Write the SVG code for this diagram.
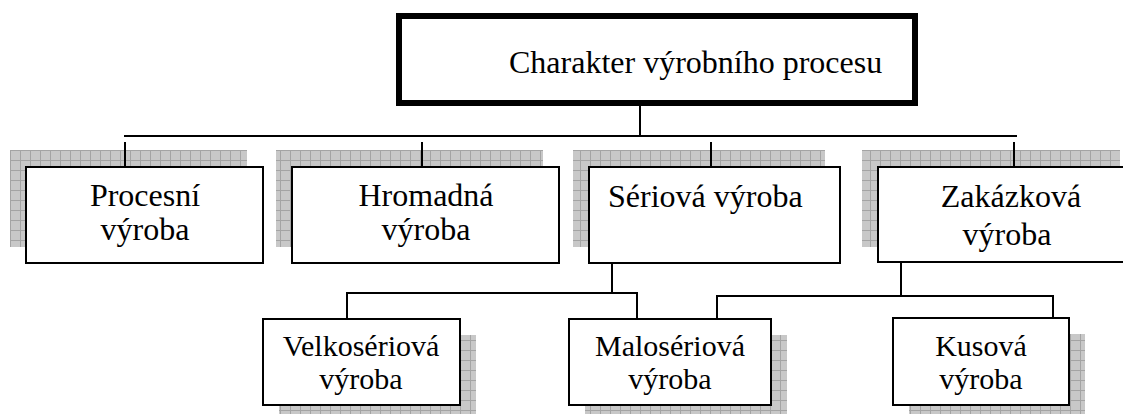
<svg xmlns="http://www.w3.org/2000/svg" width="1123" height="414" viewBox="0 0 1123 414">
<style>
.box{fill:#fff;stroke:#000;stroke-width:2}
.sh{fill:url(#grid)}
.t{font-family:"Liberation Serif","Times New Roman",serif;font-size:32px;fill:#000;text-anchor:middle}
.s{font-size:30px}
.c{stroke:#000;stroke-width:2;fill:none}
</style>
<defs>
<pattern id="grid" patternUnits="userSpaceOnUse" x="0" y="0" width="10" height="10">
<rect width="10" height="10" fill="#c8c8c8"/>
<path d="M0.5 0V10M0 0.5H10" stroke="#a4a4a4" stroke-width="1"/>
</pattern>
</defs>
<rect width="1123" height="414" fill="#fff"/>
<g id="root">
<rect x="399" y="16" width="516" height="87" fill="#fff" stroke="#000" stroke-width="6"/>
<text class="t" x="509" y="73" style="text-anchor:start">Charakter výrobního procesu</text>
</g>
<g id="procesni">
<rect class="sh" x="10" y="150" width="237" height="97"/>
<rect class="box" x="26" y="167" width="237" height="96"/>
<text class="t" x="145" y="206">Procesní</text>
<text class="t" x="145" y="240">výroba</text>
</g>
<g id="hromadna">
<rect class="sh" x="276" y="150" width="267" height="97"/>
<rect class="box" x="292" y="167" width="267" height="96"/>
<text class="t" x="426" y="206">Hromadná</text>
<text class="t" x="426" y="240">výroba</text>
</g>
<g id="seriova">
<rect class="sh" x="573" y="150" width="252" height="97"/>
<rect class="box" x="589" y="167" width="251" height="96"/>
<text class="t" x="608" y="207" style="text-anchor:start">Sériová výroba</text>
</g>
<g id="zakazkova">
<rect class="sh" x="862" y="150" width="258" height="97"/>
<rect class="box" x="878" y="167" width="260" height="95"/>
<text class="t" x="1011" y="207">Zakázková</text>
<text class="t" x="1007" y="245">výroba</text>
</g>
<g id="velkoseriova">
<rect class="sh" x="279" y="335" width="197" height="86"/>
<rect class="box" x="263" y="319" width="197" height="86"/>
<text class="t s" x="361" y="356">Velkosériová</text>
<text class="t s" x="361" y="389">výroba</text>
</g>
<g id="maloseriova">
<rect class="sh" x="585" y="335" width="202" height="86"/>
<rect class="box" x="569" y="319" width="202" height="86"/>
<text class="t s" x="670" y="356">Malosériová</text>
<text class="t s" x="670" y="389">výroba</text>
</g>
<g id="kusova">
<rect class="sh" x="909" y="334" width="176" height="86"/>
<rect class="box" x="893" y="318" width="176" height="87"/>
<text class="t s" x="981" y="356">Kusová</text>
<text class="t s" x="981" y="389">výroba</text>
</g>
<g id="connectors">
<path class="c" d="M640 106V136M124 136H1017"/>
<path class="c" d="M125 142V167M422 142V167M711 142V167M1014 142V167"/>
<path class="c" d="M612 263V293M346 293H638M347 293V319M637 293V319"/>
<path class="c" d="M901 263V296M716 296H1054M717 296V319M1053 296V318"/>
</g>
</svg>
